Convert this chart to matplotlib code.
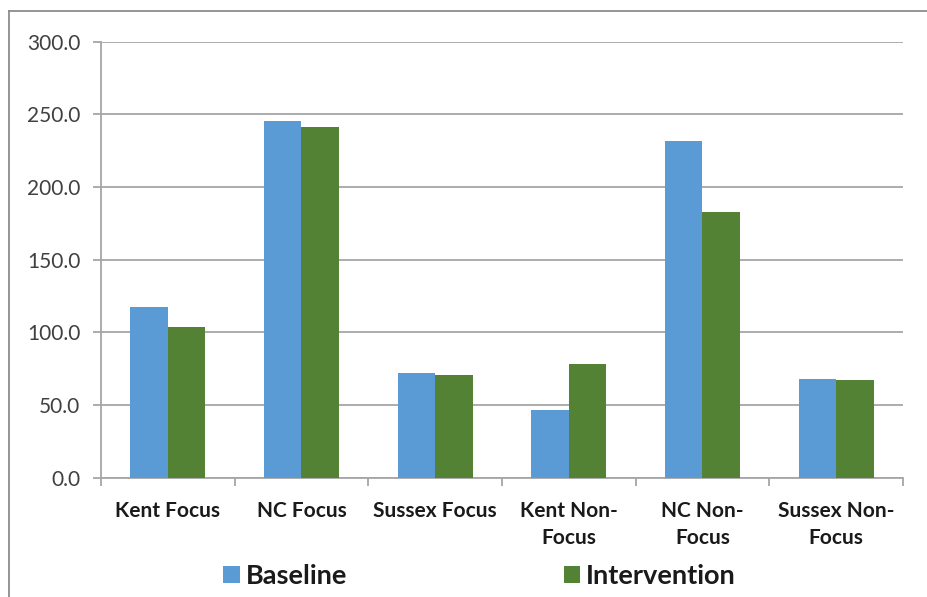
import matplotlib
matplotlib.use("Agg")
import matplotlib.pyplot as plt
from matplotlib.lines import Line2D
import numpy as np

plt.rcParams['font.family'] = ['Lato', 'DejaVu Sans']

categories = ["Kent Focus", "NC Focus", "Sussex Focus",
              "Kent Non-\nFocus", "NC Non-\nFocus", "Sussex Non-\nFocus"]
baseline = [117.6, 245.4, 72.2, 46.2, 231.4, 67.9]
intervention = [103.7, 241.6, 70.9, 77.9, 182.6, 66.9]
series_names = ["Baseline", "Intervention"]
y_ticks = [0, 50, 100, 150, 200, 250, 300]

blue = "#5B9BD5"
green = "#548235"
grid_col = "#A6A6A6"

fig = plt.figure(figsize=(9.28, 5.97), dpi=100)
ax = fig.add_axes([101 / 928, 1 - 477.5 / 597, 802 / 928, (477.5 - 41.8) / 597])

x = np.arange(len(categories))
w = 0.28
b1 = ax.bar(x - w / 2, baseline, w, color=blue, label=series_names[0], zorder=3)
b2 = ax.bar(x + w / 2, intervention, w, color=green, label=series_names[1], zorder=3)

ax.set_xlim(-0.5, len(categories) - 0.5)
ax.set_ylim(0, 300)
ax.set_yticks(y_ticks)
ax.set_yticklabels([f"{v:.1f}" for v in y_ticks], fontsize=15, color="#404040")
ax.yaxis.grid(True, color=grid_col, linewidth=1.3, zorder=0)
ax.set_axisbelow(True)

# category labels centred under each group, ticks on group boundaries
ax.set_xticks(x)
ax.set_xticklabels(categories, fontsize=15, fontweight="bold", color="#1a1a1a",
                   linespacing=1.45)
ax.tick_params(axis="x", length=0, pad=17)
ax.set_xticks(np.arange(-0.5, len(categories)), minor=True)
ax.tick_params(axis="x", which="minor", length=6, color=grid_col, width=1.3)
ax.tick_params(axis="y", length=6, color=grid_col, width=1.3, pad=9)

for s in ["top", "right"]:
    ax.spines[s].set_visible(False)
for s in ["left", "bottom"]:
    ax.spines[s].set_color(grid_col)
    ax.spines[s].set_linewidth(1.3)

leg = fig.legend(handles=[b1, b2], labels=series_names, loc="center",
                 bbox_to_anchor=(479.5 / 928, 1 - 576 / 597), ncol=2, frameon=False,
                 prop={"size": 19.5, "weight": "bold"}, handlelength=0.6,
                 handleheight=0.6, handletextpad=0.22, columnspacing=8.0,
                 borderpad=0, borderaxespad=0)
for t in leg.get_texts():
    t.set_color("#1a1a1a")

# chart frame
fig.add_artist(Line2D([9 / 928, 9 / 928], [0, 1 - 10.7 / 597],
                      transform=fig.transFigure, color="#8c8c8c", linewidth=1.3))
fig.add_artist(Line2D([9 / 928, 1], [1 - 10.7 / 597, 1 - 10.7 / 597],
                      transform=fig.transFigure, color="#8c8c8c", linewidth=1.3))

fig.savefig("out.png", dpi=100, facecolor="white")
